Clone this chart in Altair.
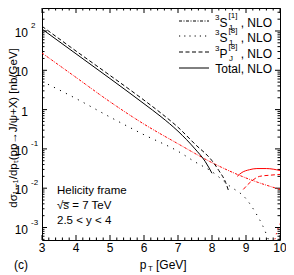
import altair as alt
import pandas as pd

# ---------------- data ----------------
# Total, NLO (positive part, black solid)
x_total = [3, 4, 5, 6, 6.5, 7, 7.5, 7.8, 8.0]
y_total = [112, 26.3, 6.17, 1.41, 0.66, 0.282, 0.100, 0.0479, 0.024]
# Total, NLO (|negative| part, red solid)
x_total_neg = [8.74, 8.88, 9.1, 9.32, 9.6, 10]
y_total_neg = [0.020, 0.0251, 0.0295, 0.0316, 0.0316, 0.0282]

# 3P_J[8] (positive, black dashed)
x_pj = [3, 4, 5, 6, 6.5, 7, 7.5, 8.0, 8.2, 8.4, 8.5]
y_pj = [132, 30.9, 7.41, 1.74, 0.813, 0.355, 0.132, 0.050, 0.0282, 0.0141, 0.0079]
# 3P_J[8] (|negative|, red dashed)
x_pj_neg = [8.92, 9.15, 9.4, 9.7, 10]
y_pj_neg = [0.0093, 0.0148, 0.020, 0.0214, 0.0224]

# 3S1[1] (|negative| over the whole range, red dash-dot)
x_s1 = [3, 4, 5, 6, 7, 8, 9, 10]
y_s1 = [27.5, 6.6, 1.58, 0.427, 0.135, 0.0447, 0.0182, 0.0093]

# 3S1[8] (positive, black dotted)
x_s8 = [3, 4, 5, 6, 7, 7.5, 8, 8.5, 9, 9.3, 9.5, 9.7]
y_s8 = [5.25, 1.91, 0.646, 0.229, 0.087, 0.0468, 0.0263, 0.0117, 0.0054, 0.00224, 0.00107, 0.0004]
# 3S1[8] (|negative|, red dotted)
x_s8_neg = [9.85, 9.93, 10]
y_s8_neg = [0.0005, 0.00089, 0.00126]

# axis ticks
x_major = [3, 4, 5, 6, 7, 8, 9, 10]
x_labels = ["3", "4", "5", "6", "7", "8", "9", "10"]
y_major = [1e-3, 1e-2, 1e-1, 1, 10, 100]
y_base = ["10", "10", "10", "1", "10", "10"]
y_exp = ["-3", "-2", "-1", "", "", "2"]

# ---------------- layout ----------------
W, H = 238, 232
YDOM = [10 ** -3.318, 10 ** 2.585]
xs = alt.Scale(domain=[3, 10], nice=False, zero=False)
ys = alt.Scale(type="log", domain=YDOM, nice=False)
FONT = "Liberation Sans"

x_minor = [round(3 + 0.2 * i, 2) for i in range(36) if i % 5 != 0]
y_minor = [k * 10 ** e for e in range(-4, 3) for k in range(2, 10)
           if YDOM[0] <= k * 10 ** e <= YDOM[1]]


def curve(xv, yv, color, dash=None, width=1.0):
    df = pd.DataFrame({"x": xv, "y": yv})
    kw = dict(color=color, strokeWidth=width, clip=True, interpolate="monotone")
    if dash:
        kw["strokeDash"] = dash
    return alt.Chart(df).mark_line(**kw).encode(
        x=alt.X("x:Q", scale=xs, axis=None),
        y=alt.Y("y:Q", scale=ys, axis=None),
    )


def txt(s, x, y, size=12, align="left", baseline="middle", angle=None, color="black"):
    kw = dict(text=s, font=FONT, fontSize=size, align=align, baseline=baseline, color=color)
    if angle is not None:
        kw["angle"] = angle
    return alt.Chart(pd.DataFrame({"a": [0]})).mark_text(**kw).encode(
        x=alt.value(x), y=alt.value(y))


def legend_line(y, dash=None):
    kw = dict(color="black", strokeWidth=1)
    if dash:
        kw["strokeDash"] = dash
    return alt.Chart(pd.DataFrame({"a": [0]})).mark_rule(**kw).encode(
        x=alt.value(137), x2=alt.value(167), y=alt.value(y))


layers = []

# ticks (inward)
xmaj = pd.DataFrame({"x": x_major})
xmin = pd.DataFrame({"x": x_minor})
ymaj = pd.DataFrame({"y": y_major})
ymin = pd.DataFrame({"y": y_minor})
for df, ln in [(xmaj, 5), (xmin, 2.5)]:
    base = alt.Chart(df).mark_rule(color="black", strokeWidth=1)
    layers.append(base.encode(x=alt.X("x:Q", scale=xs, axis=None), y=alt.value(H), y2=alt.value(H - ln)))
    layers.append(base.encode(x=alt.X("x:Q", scale=xs, axis=None), y=alt.value(0), y2=alt.value(ln)))
for df, ln in [(ymaj, 5), (ymin, 2.5)]:
    base = alt.Chart(df).mark_rule(color="black", strokeWidth=1)
    layers.append(base.encode(y=alt.Y("y:Q", scale=ys, axis=None), x=alt.value(0), x2=alt.value(ln)))
    layers.append(base.encode(y=alt.Y("y:Q", scale=ys, axis=None), x=alt.value(W), x2=alt.value(W - ln)))

# tick labels
xl = pd.DataFrame({"x": x_major, "t": x_labels})
layers.append(alt.Chart(xl).mark_text(font=FONT, fontSize=12, baseline="middle", align="center").encode(
    x=alt.X("x:Q", scale=xs, axis=None), y=alt.value(H + 8), text="t:N"))
yl = pd.DataFrame({"y": y_major, "b": y_base, "e": y_exp})
layers.append(alt.Chart(yl).mark_text(font=FONT, fontSize=12, baseline="middle", align="right", dy=2).encode(
    y=alt.Y("y:Q", scale=ys, axis=None), x=alt.value(-14), text="b:N"))
layers.append(alt.Chart(yl).mark_text(font=FONT, fontSize=8, baseline="middle", align="left", dy=-5).encode(
    y=alt.Y("y:Q", scale=ys, axis=None), x=alt.value(-11), text="e:N"))

# curves
RED = "#ff0000"
layers += [
    curve(x_s1, y_s1, RED, dash=[2.5, 1.2, 0.8, 1.2]),
    curve(x_s8, y_s8, "black", dash=[1.2, 5.5]),
    curve(x_s8_neg, y_s8_neg, RED, dash=[1.2, 4]),
    curve(x_pj, y_pj, "black", dash=[4, 2.5]),
    curve(x_pj_neg, y_pj_neg, RED, dash=[4, 2.5]),
    curve(x_total, y_total, "black"),
    curve(x_total_neg, y_total_neg, RED),
]

# legend
rows = [13, 28, 44, 60]
layers += [
    legend_line(rows[0], dash=[3, 1.5, 1, 1.5]),
    legend_line(rows[1], dash=[1.2, 4]),
    legend_line(rows[2], dash=[4, 2.5]),
    legend_line(rows[3]),
]
for r, main, sub, sup in [(rows[0], "S", "1", "[1]"), (rows[1], "S", "1", "[8]"), (rows[2], "P", "J", "[8]")]:
    yc = r + 1.5
    layers += [
        txt("3", 173, yc - 5, size=8),
        txt(main, 177.5, yc, size=12),
        txt(sup, 186.5, yc - 7, size=8),
        txt(sub, 187, yc + 5, size=8),
        txt(", NLO", 230, yc, size=12, align="right"),
    ]
layers.append(txt("Total, NLO", 230, rows[3] + 1, size=12, align="right"))

# annotations
layers += [
    txt("Helicity frame", 15, 183, size=11.5),
    txt("\u221as\u0305 = 7 TeV", 15, 198, size=11.5),
    txt("2.5 < y < 4", 15, 213, size=11.5),
    txt("(c)", -21, 257, size=12, align="center"),
    txt("p", 101, 257, size=12, align="center"),
    txt("T", 106, 261, size=8),
    txt("[GeV]", 114, 257, size=12),
    txt("d\u03c3\u2081,\u208b\u2081/dp\u209c(pp\u2192J/\u03c8+X)  [nb/GeV]", -28, 120, size=11.5,
        align="center", angle=270),
]

chart = alt.layer(*layers).properties(
    width=W, height=H,
    autosize=alt.AutoSizeParams(type="none"),
    padding={"left": 34, "top": 0, "right": 6, "bottom": 35},
).configure_view(stroke="black", strokeWidth=1)

chart.save("out.html", embed_options={"renderer": "svg", "actions": False})
